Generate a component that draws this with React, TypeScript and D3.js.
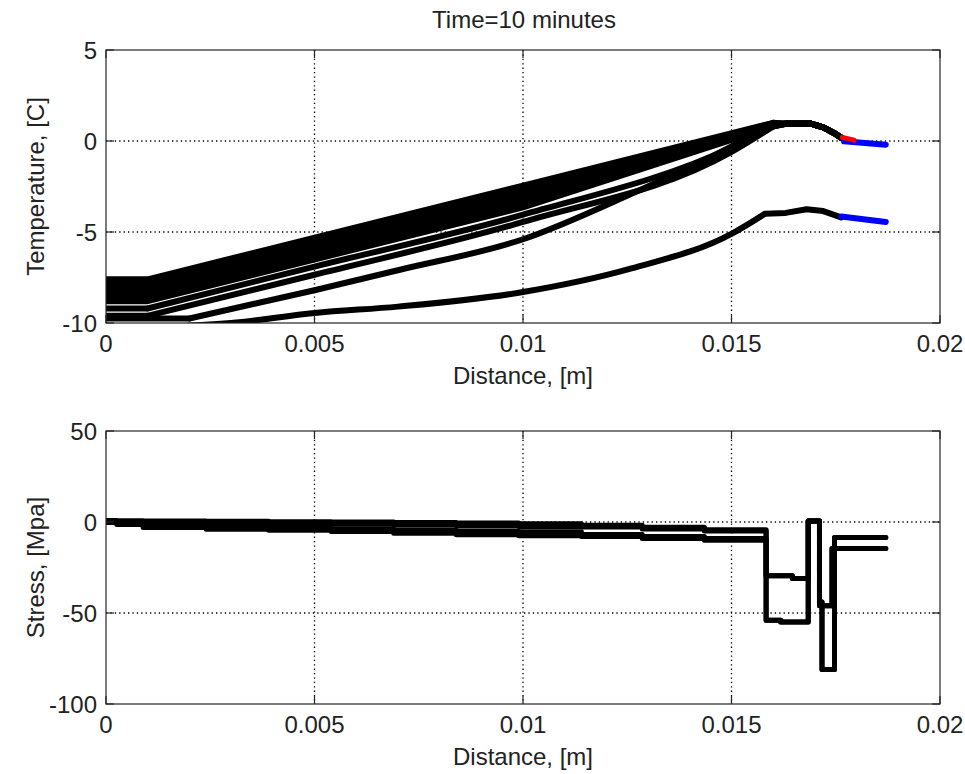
import React from "react";
import * as d3 from "d3";

const W = 965;
const H = 774;

// ---------- axes ----------
const xTicks = [0, 0.005, 0.01, 0.015, 0.02];
const xTickLabels = ["0", "0.005", "0.01", "0.015", "0.02"];
const tempTicks = [-10, -5, 0, 5];
const stressTicks = [-100, -50, 0, 50];

// ---------- top plot: temperature ----------
// band of nearly straight lines (values at bandX)
const bandX = [0, 0.001, 0.01, 0.016];
const bandStart = [-7.6, -7.75, -7.9, -8.05, -8.2, -8.35, -8.5, -8.65, -8.8];
const bandMid = [-2.45, -2.6, -2.75, -2.9, -3.05, -3.2, -3.35, -3.5, -3.65];
const bandEnd = [1.0, 0.98, 0.95, 0.93, 0.9, 0.88, 0.85, 0.83, 0.8];
// shared hump/tail of the upper group
const peakX = [0.0163, 0.0169, 0.0172, 0.01745, 0.01765];
const peakY = [0.95, 0.95, 0.75, 0.45, 0.15];

const lineAX = [0.001, 0.005, 0.01, 0.015, 0.016];
const lineAY = [-9.2, -6.9, -4.05, -0.35, 0.8];
const lineBX = [0.001, 0.005, 0.01, 0.015, 0.016];
const lineBY = [-9.6, -7.35, -4.45, -0.6, 0.8];
const lineCX = [0.002, 0.005, 0.007, 0.01, 0.0126, 0.015, 0.0159];
const lineCY = [-9.75, -8.2, -7.1, -5.4, -2.9, -0.3, 0.85];
const lineDX = [0, 0.003, 0.005, 0.007, 0.01, 0.0126, 0.015, 0.0158];
const lineDY = [-10.3, -10.0, -9.45, -9.1, -8.3, -7.0, -5.1, -4.0];
const humpDX = [0.0163, 0.0168, 0.0172, 0.01763];
const humpDY = [-3.95, -3.75, -3.85, -4.2];

const redX = [0.01766, 0.01794];
const redY = [0.2, 0.05];
const blueUpperX = [0.0177, 0.0187];
const blueUpperY = [-0.02, -0.2];
const blueLowerX = [0.01763, 0.0187];
const blueLowerY = [-4.15, -4.45];

// ---------- bottom plot: stress ----------
const stepX = [0, 0.00026, 0.00089, 0.0024, 0.0039, 0.0054, 0.0069, 0.0084, 0.0099, 0.0114, 0.01286, 0.01435, 0.01583];
const stressU1 = [0.8, 0.7, 0.6, 0.4, 0.2, 0, -0.3, -0.6, -1.0, -1.8, -2.9, -4.2];
const stressU2 = [0.4, 0.2, -0.2, -0.5, -0.9, -1.3, -1.7, -2.1, -2.5, -2.8, -3.8, -5.0];
const stressL1 = [0.0, -0.8, -1.8, -2.6, -3.3, -3.9, -4.4, -4.9, -5.4, -6.9, -7.9, -9.0];
const stressL2 = [-0.3, -1.4, -3.0, -4.0, -4.5, -5.2, -6.2, -7.0, -7.6, -8.0, -9.0, -10.0];

const s1TailX = [0.01583, 0.01646, 0.01646, 0.01684, 0.01684, 0.01711, 0.01711, 0.01741, 0.01741, 0.0175, 0.0187];
const s1TailY = [-29.5, -29.5, -31, -31, 0.5, 0.5, -46, -46, -14.5, -14.5, -14.5];
const s2TailX = [0.01583, 0.01618, 0.01618, 0.01684, 0.01684, 0.01711, 0.01711, 0.01717, 0.01717, 0.01747, 0.01747, 0.0187];
const s2TailY = [-54, -54, -55, -55, 0.5, 0.5, -44, -44, -81, -81, -8.5, -8.5];

type Pt = [number, number];

const zip = (xs: number[], ys: number[]): Pt[] => xs.map((x, i) => [x, ys[i]] as Pt);

const stepped = (xs: number[], vals: number[]): Pt[] => {
  const pts: Pt[] = [];
  vals.forEach((v, i) => {
    pts.push([xs[i], v]);
    pts.push([xs[i + 1], v]);
  });
  return pts;
};

const L = 106;
const R = 940;
const FONT = "'Liberation Sans', Arial, Helvetica, sans-serif";

interface PanelProps {
  top: number;
  bottom: number;
  yDomain: [number, number];
  yTicks: number[];
  yLabel: string;
  id: string;
  children: (x: d3.ScaleLinear<number, number>, y: d3.ScaleLinear<number, number>) => React.ReactNode;
}

function Panel({ top, bottom, yDomain, yTicks, yLabel, id, children }: PanelProps) {
  const x = d3.scaleLinear().domain([0, 0.02]).range([L, R]);
  const y = d3.scaleLinear().domain(yDomain).range([bottom, top]);
  const tickLen = 8;
  const gridStyle = { stroke: "#000", strokeWidth: 1.3, strokeDasharray: "1.3 3.1" };
  return (
    <g>
      <defs>
        <clipPath id={id}>
          <rect x={L} y={top} width={R - L} height={bottom - top} />
        </clipPath>
      </defs>
      {xTicks.slice(1, -1).map((t) => (
        <line key={"gx" + t} x1={x(t)} x2={x(t)} y1={top} y2={bottom} {...gridStyle} />
      ))}
      {yTicks.slice(1, -1).map((t) => (
        <line key={"gy" + t} x1={L} x2={R} y1={y(t)} y2={y(t)} {...gridStyle} />
      ))}
      <g clipPath={`url(#${id})`}>{children(x, y)}</g>
      <rect x={L} y={top} width={R - L} height={bottom - top} fill="none" stroke="#262626" strokeWidth={1.2} />
      {xTicks.map((t) => (
        <g key={"tx" + t}>
          <line x1={x(t)} x2={x(t)} y1={bottom} y2={bottom - tickLen} stroke="#262626" strokeWidth={1.2} />
          <line x1={x(t)} x2={x(t)} y1={top} y2={top + tickLen} stroke="#262626" strokeWidth={1.2} />
        </g>
      ))}
      {yTicks.map((t) => (
        <g key={"ty" + t}>
          <line x1={L} x2={L + tickLen} y1={y(t)} y2={y(t)} stroke="#262626" strokeWidth={1.2} />
          <line x1={R} x2={R - tickLen} y1={y(t)} y2={y(t)} stroke="#262626" strokeWidth={1.2} />
        </g>
      ))}
      {xTicks.map((t, i) => (
        <text key={"lx" + t} x={x(t)} y={bottom + 29} textAnchor="middle" fontSize={24} fontFamily={FONT} fill="#222">
          {xTickLabels[i]}
        </text>
      ))}
      {yTicks.map((t) => (
        <text key={"ly" + t} x={L - 9} y={y(t) + 8.5} textAnchor="end" fontSize={24} fontFamily={FONT} fill="#222">
          {String(t)}
        </text>
      ))}
      <text x={(L + R) / 2} y={bottom + 61} textAnchor="middle" fontSize={24} fontFamily={FONT} fill="#222">
        Distance, [m]
      </text>
      <text
        transform={`translate(44, ${(top + bottom) / 2}) rotate(-90)`}
        textAnchor="middle"
        fontSize={24}
        fontFamily={FONT}
        fill="#222"
      >
        {yLabel}
      </text>
    </g>
  );
}

export default function App() {
  // each temperature curve: straight pieces (lin) and smooth pieces (curve)
  const tempPieces: { pts: Pt[]; smooth: boolean }[] = [];
  bandStart.forEach((s, i) => {
    const last = bandEnd[i];
    tempPieces.push({ pts: zip(bandX, [s, s, bandMid[i], last]), smooth: false });
    tempPieces.push({ pts: ([[bandX[3], last]] as Pt[]).concat(zip(peakX, peakY)), smooth: false });
  });
  const addCurve = (xs: number[], ys: number[], hx: number[], hy: number[]) => {
    tempPieces.push({ pts: [[0, ys[0]], [xs[0], ys[0]]], smooth: false });
    tempPieces.push({ pts: zip(xs, ys), smooth: true });
    tempPieces.push({ pts: ([[xs[xs.length - 1], ys[ys.length - 1]]] as Pt[]).concat(zip(hx, hy)), smooth: false });
  };
  addCurve(lineAX, lineAY, peakX, peakY);
  addCurve(lineBX, lineBY, peakX, peakY);
  addCurve(lineCX, lineCY, peakX, peakY);
  addCurve(lineDX, lineDY, humpDX, humpDY);

  const stressLines: Pt[][] = [
    stepped(stepX, stressU1).concat(zip(s1TailX, s1TailY)),
    stepped(stepX, stressU2).concat(zip(s1TailX, s1TailY)),
    stepped(stepX, stressL1).concat(zip(s2TailX, s2TailY)),
    stepped(stepX, stressL2).concat(zip(s2TailX, s2TailY)),
  ];

  return (
    <svg width={W} height={H} style={{ display: "block", position: "absolute", left: 0, top: 0, background: "#fff" }}>
      <rect x={0} y={0} width={W} height={H} fill="#fff" />
      <text x={524} y={28} textAnchor="middle" fontSize={24} fontFamily={FONT} fill="#222">
        Time=10 minutes
      </text>
      <Panel top={50} bottom={323} yDomain={[-10, 5]} yTicks={tempTicks} yLabel="Temperature, [C]" id="clipT">
        {(x, y) => {
          const lin = d3.line<Pt>().x((d) => x(d[0])).y((d) => y(d[1]));
          const smooth = d3.line<Pt>().x((d) => x(d[0])).y((d) => y(d[1])).curve(d3.curveMonotoneX);
          return (
            <g fill="none" strokeLinejoin="round" strokeLinecap="round">
              {tempPieces.map((p, i) => (
                <path key={i} d={(p.smooth ? smooth(p.pts) : lin(p.pts)) || ""} stroke="#000" strokeWidth={6} />
              ))}
              <path d={lin(zip(blueUpperX, blueUpperY)) || ""} stroke="#0000ff" strokeWidth={6} />
              <path d={lin(zip(blueLowerX, blueLowerY)) || ""} stroke="#0000ff" strokeWidth={6} />
              <path d={lin(zip(redX, redY)) || ""} stroke="#ff0000" strokeWidth={5} />
            </g>
          );
        }}
      </Panel>
      <Panel top={431} bottom={704} yDomain={[-100, 50]} yTicks={stressTicks} yLabel="Stress, [Mpa]" id="clipS">
        {(x, y) => {
          const lin = d3.line<Pt>().x((d) => x(d[0])).y((d) => y(d[1]));
          return (
            <g fill="none" strokeLinejoin="round" strokeLinecap="round">
              {stressLines.map((pts, i) => (
                <path key={i} d={lin(pts) || ""} stroke="#000" strokeWidth={5} />
              ))}
            </g>
          );
        }}
      </Panel>
    </svg>
  );
}
